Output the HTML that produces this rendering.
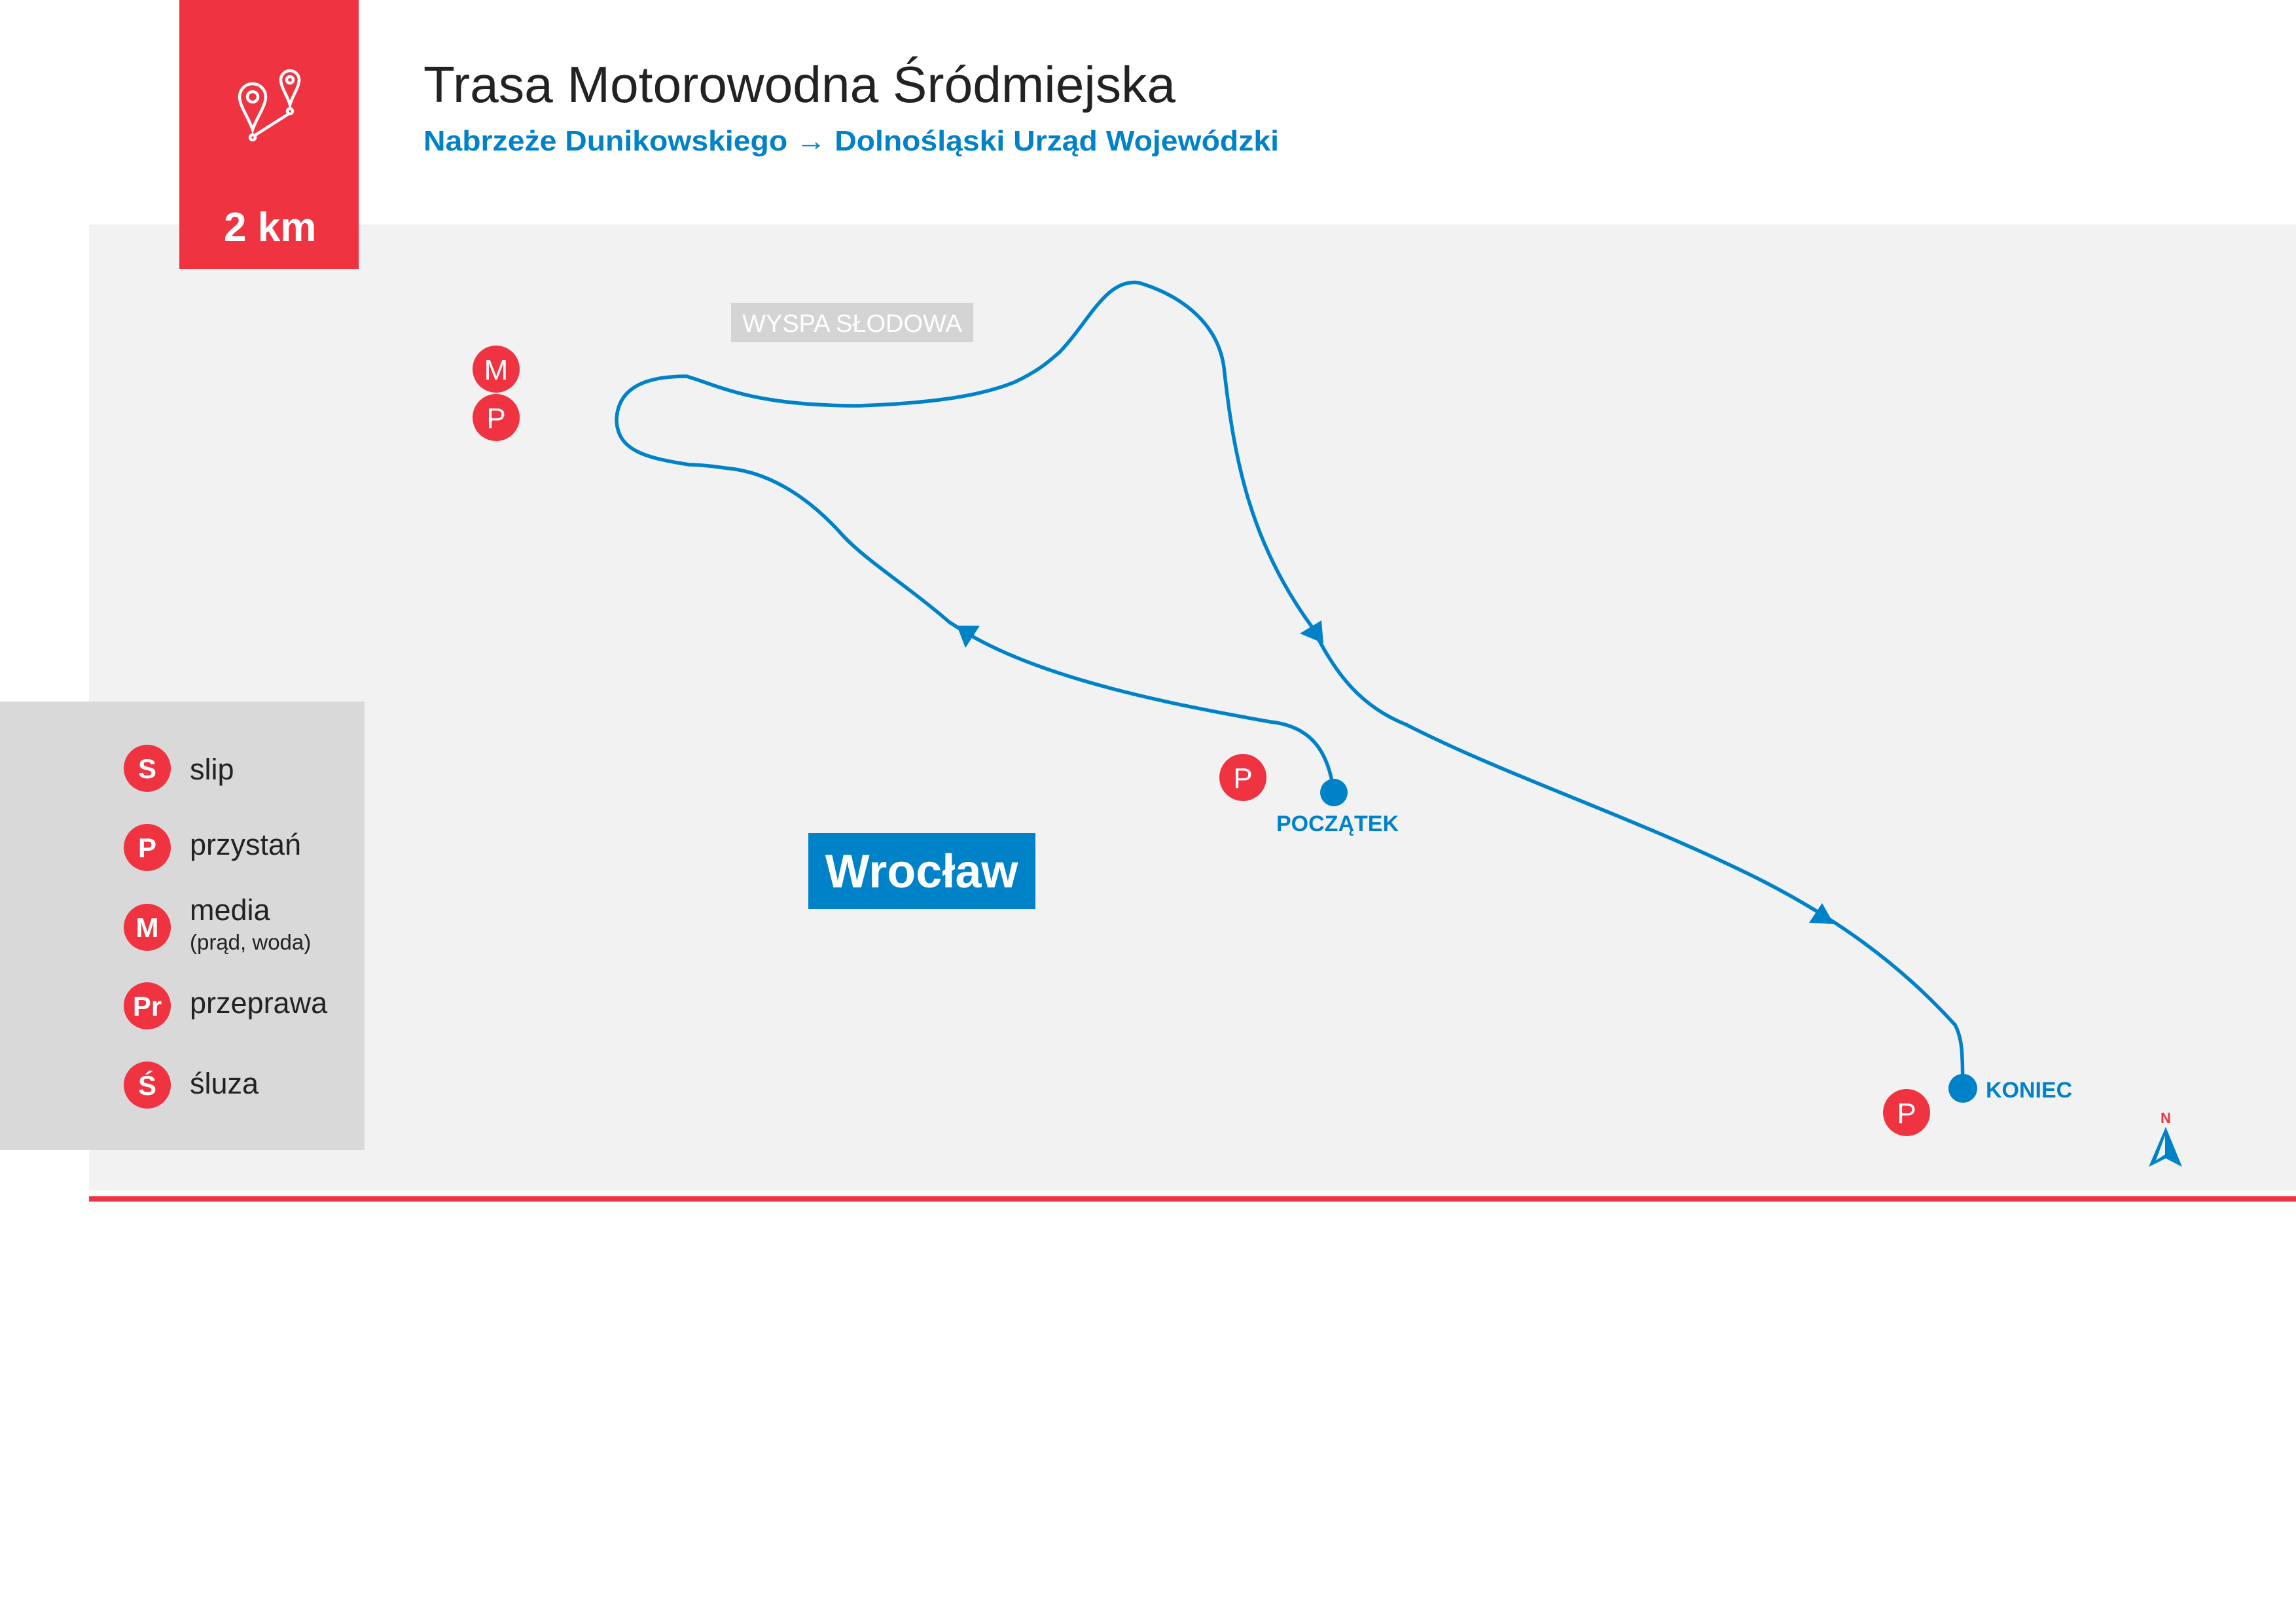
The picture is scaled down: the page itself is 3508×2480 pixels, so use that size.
<!DOCTYPE html>
<html><head><meta charset="utf-8"><style>
html,body{margin:0;padding:0;background:#fff;}
svg{display:block;}
</style></head><body>
<svg width="3508" height="2480" viewBox="0 0 3508 2480" xmlns="http://www.w3.org/2000/svg" font-family="Liberation Sans, sans-serif">
<rect x="0" y="0" width="3508" height="2480" fill="#fff"/>
<rect x="136" y="343" width="3372" height="1476" fill="#f2f2f2"/>
<rect x="136" y="1828" width="3372" height="8" fill="#ef3340"/>
<!-- red header box -->
<rect x="274" y="0" width="274" height="411" fill="#ef3340"/>
<g fill="none" stroke="#fff" stroke-width="4.5">
<path d="M386 198 C380 180 366 162 366 148 A20 20 0 1 1 406 148 C406 162 392 180 386 198 Z"/>
<circle cx="386" cy="148" r="8"/>
<path d="M443 160 C439 146 429 133 429 122 A14 14 0 1 1 457 122 C457 133 447 146 443 160 Z"/>
<circle cx="443" cy="122" r="5"/>
<circle cx="443" cy="170" r="4"/>
<circle cx="386" cy="210" r="4"/>
<line x1="441" y1="174" x2="389" y2="207"/>
</g>
<text x="342" y="368" font-size="62" font-weight="bold" fill="#fff">2 km</text>
<!-- title -->
<text x="647" y="156" font-size="78" fill="#222" textLength="1149" lengthAdjust="spacingAndGlyphs">Trasa Motorowodna Śródmiejska</text>
<text x="647" y="230" font-size="44" font-weight="bold" fill="#0082c8" textLength="1307" lengthAdjust="spacingAndGlyphs">Nabrzeże Dunikowskiego → Dolnośląski Urząd Wojewódzki</text>
<!-- legend -->
<rect x="0" y="1072" width="557" height="685" fill="#d9d9d9"/>
<g fill="#ef3340">
<circle cx="225" cy="1174" r="36"/><circle cx="225" cy="1295" r="36"/><circle cx="225" cy="1417" r="36"/><circle cx="225" cy="1537" r="36"/><circle cx="225" cy="1658" r="36"/>
</g>
<g fill="#fff" font-weight="bold" font-size="42" text-anchor="middle">
<text x="225" y="1189">S</text><text x="225" y="1310">P</text><text x="225" y="1432">M</text><text x="225" y="1552">Pr</text><text x="225" y="1673">Ś</text>
</g>
<g fill="#222" font-size="45">
<text x="290" y="1191">slip</text>
<text x="290" y="1306">przystań</text>
<text x="290" y="1406">media</text>
<text x="290" y="1451" font-size="33">(prąd, woda)</text>
<text x="290" y="1548">przeprawa</text>
<text x="290" y="1671">śluza</text>
</g>
<!-- map labels -->
<rect x="1117" y="463" width="370" height="60" fill="#d4d4d4"/>
<text x="1302" y="507" font-size="38" fill="#fff" text-anchor="middle">WYSPA SŁODOWA</text>
<rect x="1235" y="1273" width="347" height="116" fill="#0082c8"/>
<text x="1408" y="1356" font-size="72" font-weight="bold" fill="#fff" text-anchor="middle">Wrocław</text>
<!-- P/M markers -->
<g fill="#ef3340">
<circle cx="758" cy="564" r="36"/><circle cx="758" cy="638" r="36"/>
<circle cx="1899" cy="1188" r="36"/><circle cx="2913" cy="1700" r="36"/>
</g>
<g fill="#fff" font-size="44" text-anchor="middle">
<text x="758" y="580">M</text><text x="758" y="654">P</text>
<text x="1899" y="1204">P</text><text x="2913" y="1716">P</text>
</g>
<!-- route -->
<path fill="none" stroke="#0082c8" stroke-width="5.5" stroke-linecap="round" stroke-linejoin="round"
d="M2038 1211 C2030 1150 2005 1110 1941 1103 C1800 1078 1600 1040 1478 968 L1451 951 C1380 890 1320 855 1283 813 C1230 755 1170 720 1107 715 C1080 711 1060 710 1053 710 C990 700 942 690 942 640 C945 590 990 575 1049 575 C1100 590 1150 620 1313 620 C1450 615 1510 600 1550 584 C1590 565 1605 550 1619 538 C1665 490 1690 425 1740 432 C1800 450 1860 490 1870 561 C1885 700 1910 830 2006 960 C2040 1030 2080 1080 2148 1107 C2300 1185 2500 1250 2685 1342 C2800 1400 2900 1470 2987 1566 C3000 1590 2998 1620 2999 1663"/>
<g fill="#0082c8">
<polygon points="1462,956 1497,956 1475,990"/>
<polygon points="2019,948 1986,968 2022,983"/>
<polygon points="2802,1412 2764,1410 2784,1380"/>
<circle cx="2038" cy="1211" r="21"/>
<circle cx="2999" cy="1663" r="22"/>
</g>
<g fill="#0082c8" font-weight="bold" font-size="34">
<text x="1950" y="1270">POCZĄTEK</text>
<text x="3034" y="1677">KONIEC</text>
</g>
<!-- north arrow -->
<text x="3309" y="1716" font-size="22" font-weight="bold" fill="#ef3340" text-anchor="middle">N</text>
<polygon points="3309,1722 3334,1783 3309,1770 3283,1783" fill="#0082c8"/>
<polygon points="3308,1735 3308,1764 3294,1773" fill="#f2f2f2"/>
</svg>
</body></html>
